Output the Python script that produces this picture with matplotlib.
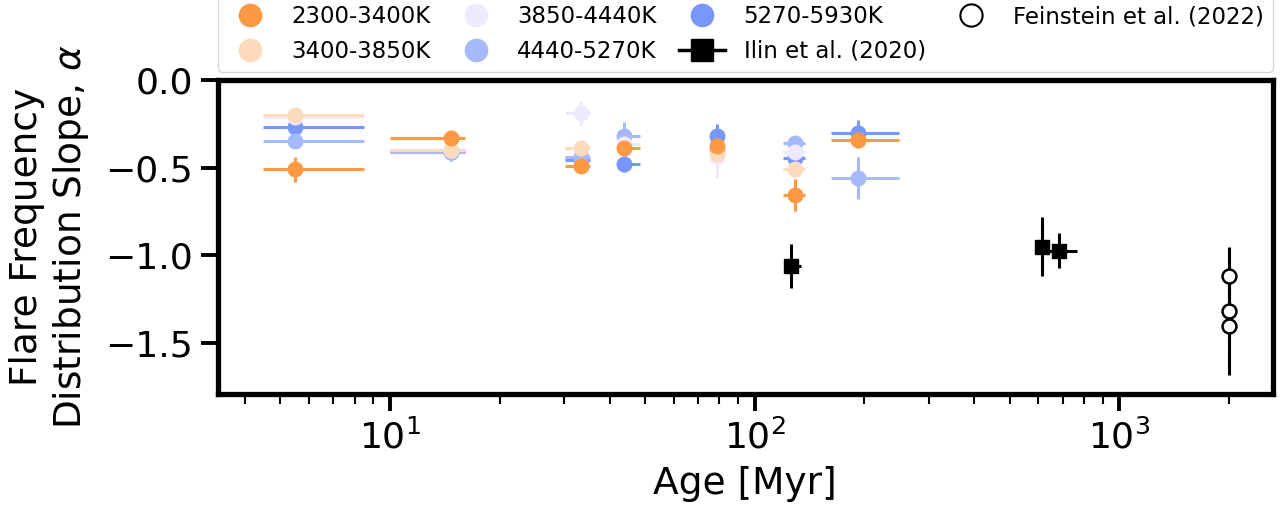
import numpy as np
import matplotlib.pyplot as plt
from matplotlib.lines import Line2D

# ages of the groups (Myr) and the age ranges shown as horizontal bars
age = np.array([5.5, 14.7, 33.4, 43.9, 79.0, 129.0, 192.0])
age_lo = np.array([4.5, 10.0, 30.2, 42.0, 76.0, 119.5, 162.0])
age_hi = np.array([8.5, 16.1, 35.4, 48.5, 82.0, 137.0, 248.0])

bins = ['2300-3400K', '3400-3850K', '3850-4440K', '4440-5270K', '5270-5930K']
colors = ['#FD9843', '#FDDABC', '#EEE9FC', '#A6B9FD', '#7797FD']

nan = np.nan
slope = {
    '2300-3400K': [-0.51, -0.33, -0.49, -0.39, -0.375, -0.655, -0.34],
    '3400-3850K': [-0.20, -0.40, -0.39, nan, -0.42, -0.51, nan],
    '3850-4440K': [-0.21, -0.40, -0.19, -0.365, -0.44, -0.41, nan],
    '4440-5270K': [-0.35, -0.41, -0.44, -0.32, -0.40, -0.36, -0.56],
    '5270-5930K': [-0.27, -0.41, -0.455, -0.48, -0.32, -0.445, -0.30],
}
slope_err = {
    '2300-3400K': [0.07, 0.02, 0.04, 0.03, 0.05, 0.09, 0.05],
    '3400-3850K': [0.03, 0.03, 0.03, nan, 0.05, 0.04, nan],
    '3850-4440K': [0.03, 0.03, 0.07, 0.03, 0.12, 0.05, nan],
    '4440-5270K': [0.02, 0.05, 0.03, 0.08, 0.04, 0.03, 0.12],
    '5270-5930K': [0.04, 0.03, 0.03, 0.045, 0.07, 0.03, 0.07],
}

# Ilin et al. (2020)
ilin_age = np.array([126.0, 615.0, 681.0])
ilin_age_lo = np.array([120.0, 605.0, 620.0])
ilin_age_hi = np.array([134.0, 625.0, 767.0])
ilin_alpha = np.array([-1.06, -0.95, -0.973])
ilin_err = np.array([0.125, 0.17, 0.10])

# Feinstein et al. (2022)
fein_age = np.array([2000.0, 2000.0, 2000.0])
fein_alpha = np.array([-1.12, -1.316, -1.40])
fein_err = np.array([0.17, 0.20, 0.28])

fig = plt.figure(figsize=(12.88, 5.09), dpi=100)
ax = fig.add_axes([0.169, 0.226, 0.819, 0.617])

for b, c in reversed(list(zip(bins, colors))):
    y = np.array(slope[b])
    ax.errorbar(age, y, yerr=np.array(slope_err[b]),
                xerr=[age - age_lo, age_hi - age],
                fmt='o', color=c, ms=10.5, elinewidth=2.2, capsize=0, zorder=2)

ax.errorbar(ilin_age, ilin_alpha, yerr=ilin_err,
            xerr=[ilin_age - ilin_age_lo, ilin_age_hi - ilin_age],
            fmt='s', color='k', ms=10, elinewidth=2.2, capsize=0, zorder=3)
ax.errorbar(fein_age, fein_alpha, yerr=fein_err, fmt='o', color='k', mfc='white',
            mec='k', mew=1.8, ms=10, elinewidth=2.2, capsize=0, zorder=3)

ax.set_xscale('log')
ax.set_xlim(3.37, 2630)
ax.set_ylim(-1.79, 0.0)
ax.set_yticks([0.0, -0.5, -1.0, -1.5])

for s in ax.spines.values():
    s.set_linewidth(3.8)
ax.tick_params(which='major', labelsize=26, length=12, width=2.8, pad=6)
ax.tick_params(which='minor', length=7, width=1.5)

ax.set_xlabel('Age [Myr]', fontsize=27, labelpad=8)
ax.set_ylabel('Flare Frequency\nDistribution Slope, $\\alpha$', fontsize=27, labelpad=10)

handles = [Line2D([], [], marker='o', ls='none', color=c, ms=16) for c in colors]
ilin_h = (Line2D([], [], color='k', lw=2.5),
          Line2D([], [], marker='s', ls='none', color='k', ms=16))
fein_h = Line2D([], [], marker='o', ls='none', mfc='white', mec='k', mew=1.5, ms=16)
handles = handles + [ilin_h, fein_h]
labels = bins + ['Ilin et al. (2020)', 'Feinstein et al. (2022)']
ax.legend(handles, labels, ncol=4, loc='lower left', mode='expand',
          bbox_to_anchor=(0.0, 1.025, 1.0, 0.2), borderaxespad=0,
          fontsize=16.5, frameon=True)

fig.savefig('out.png', dpi=100)
